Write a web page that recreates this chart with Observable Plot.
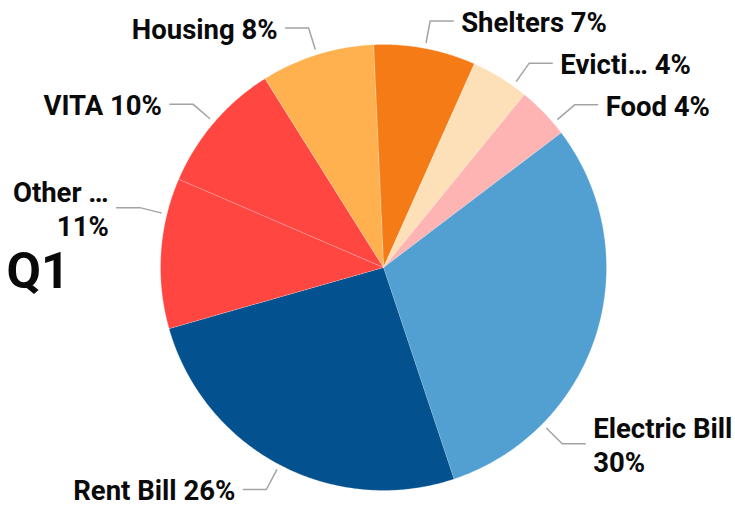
<!DOCTYPE html>
<html>
<head>
<meta charset="utf-8">
<script src="https://cdn.jsdelivr.net/npm/d3@7"></script>
<script src="https://cdn.jsdelivr.net/npm/@observablehq/plot@0.6"></script>
<style>
  html, body { margin: 0; padding: 0; background: #fff; }
  #chart svg { display: block; }
</style>
</head>
<body>
<div id="chart"></div>
<script>
// ---- data ----
const categories = ["Shelters", "Evicti…", "Food", "Electric Bill", "Rent Bill", "Other …", "VITA", "Housing"];
const shares = [7.4, 4.2, 3.8, 30.2, 25.7, 10.9, 9.6, 8.2];
const percentLabels = ["7%", "4%", "4%", "30%", "26%", "11%", "10%", "8%"];
const sliceColors = ["#f57b17", "#fee0b8", "#fdb4b3", "#529fd2", "#03518f", "#ff4641", "#ff4641", "#ffb150"];
const chartTitle = "Q1";

// ---- layout ----
const W = 735, H = 508;
const cx = 383, cy = 267, R = 223;
const startAngle = -2.6;               // degrees, clockwise from 12 o'clock
const wrapLabels = new Set(["Electric Bill", "Other …"]);
const labelAngle = {"Electric Bill": 134.6, "Evicti…": 35.5, "Food": 49.6, "Other …": 283.8};

const total = d3.sum(shares);
const rad = d => d * Math.PI / 180;
const pt = (a, r) => [cx + r * Math.sin(rad(a)), cy - r * Math.cos(rad(a))];

let acc = startAngle;
const slices = categories.map((name, i) => {
  const a0 = acc, a1 = acc + shares[i] / total * 360;
  acc = a1;
  const pts = [{x: cx, y: cy}];
  const n = Math.max(2, Math.ceil((a1 - a0) / 0.5));
  for (let k = 0; k <= n; k++) {
    const [x, y] = pt(a0 + (a1 - a0) * k / n, R);
    pts.push({x, y});
  }
  const mid = labelAngle[name] ?? (a0 + a1) / 2;
  const [ix, iy] = pt(mid, R + 6);
  const [ex, ey] = pt(mid, R + 28);
  const right = Math.sin(rad(mid)) >= 0;
  const hx = ex + (right ? 23 : -23);
  const leader = [{name, x: ix, y: iy}, {name, x: ex, y: ey}, {name, x: hx, y: ey}];
  const label = {
    name,
    x: hx + (right ? 8 : -8),
    y: ey,
    anchor: right ? "start" : "end",
    text: name + (wrapLabels.has(name) ? "\n" : " ") + percentLabels[i]
  };
  return {name, color: sliceColors[i], pts, leader, label};
});

const labels = slices.map(s => s.label);
const leaders = slices.flatMap(s => s.leader);

const chart = Plot.plot({
  width: W,
  height: H,
  margin: 0,
  x: {type: "linear", domain: [0, W], range: [0, W], axis: null},
  y: {type: "linear", domain: [0, H], range: [0, H], axis: null},
  style: {fontFamily: "Roboto, sans-serif", background: "#fff"},
  marks: [
    ...slices.map(s => Plot.line(s.pts, {
      x: "x", y: "y", curve: "linear-closed",
      fill: s.color, stroke: "#ffffff", strokeWidth: 0.4, strokeOpacity: 0.6
    })),
    Plot.line(leaders, {x: "x", y: "y", z: "name", stroke: "#a3a3a3", strokeWidth: 1.5, curve: "linear"}),
    Plot.text(labels.filter(d => d.anchor === "start"), {
      x: "x", y: "y", text: "text", textAnchor: "start", lineAnchor: "middle",
      fontSize: 27.5, fontWeight: "bold", fill: "#0a0a0a", lineHeight: 1.24
    }),
    Plot.text(labels.filter(d => d.anchor === "end"), {
      x: "x", y: "y", text: "text", textAnchor: "end", lineAnchor: "middle",
      fontSize: 27.5, fontWeight: "bold", fill: "#0a0a0a", lineHeight: 1.24
    }),
    Plot.text([chartTitle], {
      x: () => 6, y: () => 271, text: d => d, textAnchor: "start", lineAnchor: "middle",
      fontSize: 50, fontWeight: "bold", fill: "#0a0a0a"
    })
  ]
});
document.getElementById("chart").appendChild(chart);
</script>
</body>
</html>
